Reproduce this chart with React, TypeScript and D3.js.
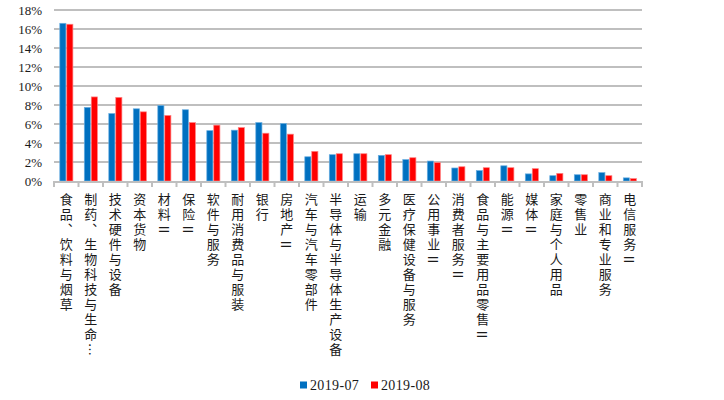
import React from "react";
import * as d3 from "d3";

const categories: string[] = [
  "食品、饮料与烟草", "制药、生物科技与生命…", "技术硬件与设备", "资本货物", "材料Ⅱ", "保险Ⅱ",
  "软件与服务", "耐用消费品与服装", "银行", "房地产Ⅱ", "汽车与汽车零部件", "半导体与半导体生产设备",
  "运输", "多元金融", "医疗保健设备与服务", "公用事业Ⅱ", "消费者服务Ⅱ", "食品与主要用品零售Ⅱ",
  "能源Ⅱ", "媒体Ⅱ", "家庭与个人用品", "零售业", "商业和专业服务", "电信服务Ⅱ",
];
const series: string[] = ["2019-07", "2019-08"];
const jul: number[] = [16.6, 7.75, 7.1, 7.6, 7.95, 7.5, 5.3, 5.35, 6.15, 6.05, 2.55, 2.77, 2.87, 2.7, 2.25, 2.1, 1.37, 1.1, 1.6, 0.75, 0.56, 0.66, 0.88, 0.33];
const aug: number[] = [16.5, 8.85, 8.8, 7.28, 6.9, 6.15, 5.88, 5.62, 5.03, 4.93, 3.12, 2.87, 2.87, 2.77, 2.45, 1.93, 1.5, 1.4, 1.4, 1.3, 0.8, 0.66, 0.56, 0.25];
const yTicks: number[] = [0, 2, 4, 6, 8, 10, 12, 14, 16, 18];

const colors = ["#0070C0", "#FF0000"];
const edges = ["#6AAEE0", "#FF8080"];

export default function App() {
  const W = 724, H = 400;
  const x0 = 54, x1 = 642, yTop = 10, yBase = 181;
  const x = d3.scaleBand<string>().domain(categories).range([x0, x1]).paddingInner(0).paddingOuter(0);
  const inner = d3.scaleBand<string>().domain(series).range([5.8, 18.9]).paddingInner(0.12);
  const y = d3.scaleLinear().domain([0, 18]).range([yBase, yTop]);
  const data = [jul, aug];

  return (
    <svg width={W} height={H} style={{ position: "absolute", left: 0, top: 0 }}>
      <rect width={W} height={H} fill="#fff" />
      {yTicks.map((t) => (
        <g key={t}>
          {t > 0 && <line x1={x0} x2={x1} y1={y(t)} y2={y(t)} stroke="#BFBFBF" strokeWidth={2} />}
          <text x={42} y={y(t)} dy="0.35em" textAnchor="end" fontFamily="'Liberation Serif', serif" fontSize={13} fill="#1a1a1a">
            {t}%
          </text>
        </g>
      ))}
      {categories.map((c, i) => (
        <g key={c}>
          {data.map((arr, s) => {
            const v = arr[i];
            const bx = (x(c) as number) + (inner(series[s]) as number);
            const bw = inner.bandwidth();
            return (
              <rect key={s} x={bx} y={y(v)} width={bw} height={yBase - y(v)} fill={colors[s]} stroke={edges[s]} strokeWidth={0.7} />
            );
          })}
        </g>
      ))}
      <line x1={x0 - 1} x2={x1 + 1} y1={yBase + 1} y2={yBase + 1} stroke="#BFBFBF" strokeWidth={2} />
      {categories.map((c, i) => (
        <line key={"t" + i} x1={x(c) as number} x2={x(c) as number} y1={yBase} y2={yBase + 6} stroke="#BFBFBF" strokeWidth={2} />
      ))}
      <line x1={x1} x2={x1} y1={yBase} y2={yBase + 6} stroke="#BFBFBF" strokeWidth={2} />
      {categories.map((c) => {
        const cx = (x(c) as number) + x.bandwidth() / 2;
        const parts = c.split("Ⅱ");
        return (
          <text
            key={"l" + c}
            x={cx}
            y={193}
            fontFamily="'Noto Sans CJK SC', sans-serif"
            fontSize={13}
            fill="#1a1a1a"
            style={{ writingMode: "vertical-rl", letterSpacing: "2px" } as React.CSSProperties}
          >
            {parts[0]}
            {parts.length > 1 && <tspan style={{ textOrientation: "sideways" } as React.CSSProperties}>Ⅱ</tspan>}
          </text>
        );
      })}
      {series.map((s, i) => (
        <g key={s} transform={`translate(${300 + i * 71},0)`}>
          <rect x={0} y={381.5} width={7} height={7} fill={colors[i]} />
          <text x={10} y={385} dy="0.35em" fontFamily="'Liberation Serif', serif" fontSize={14} fill="#1a1a1a" style={{ letterSpacing: "0.35px" }}>
            {s}
          </text>
        </g>
      ))}
    </svg>
  );
}
